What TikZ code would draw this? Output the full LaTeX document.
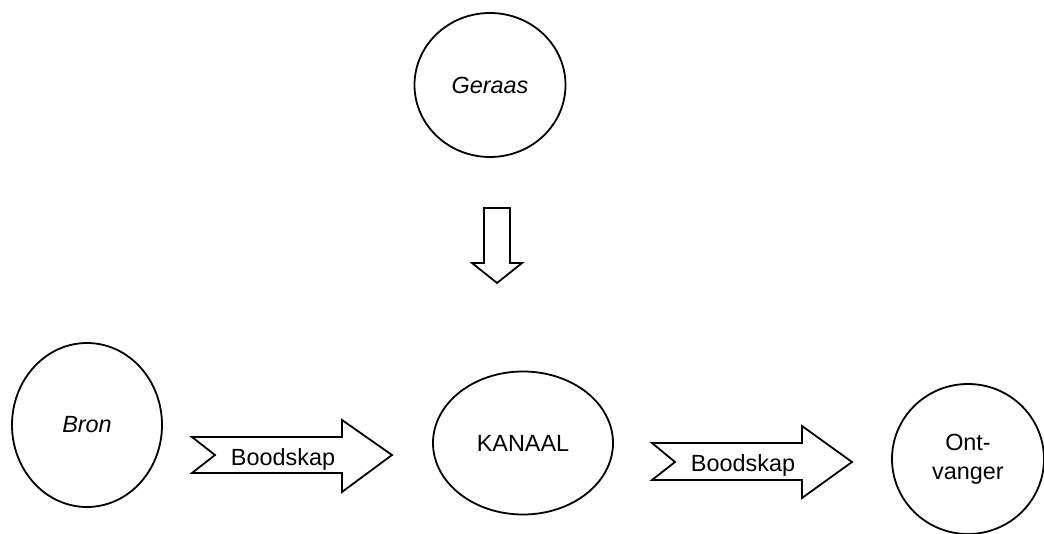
\documentclass[tikz,border=0pt]{standalone}
\usepackage{fontspec}
\setmainfont{Liberation Sans}
\usetikzlibrary{shapes.geometric}

\tikzset{
    blob/.style={ellipse,draw,line width=0.9pt,inner sep=0pt,align=center,
                 font=\fontsize{11.7}{14.5}\selectfont},
    blockarrow/.style={draw,line width=0.9pt,line join=miter},
    arrowtext/.style={inner sep=0pt,font=\fontsize{11.7}{14.5}\selectfont}
}

\begin{document}
\begin{tikzpicture}[x=0.5pt,y=-0.5pt]
    \useasboundingbox (0,0) rectangle (1044,534);

    \node (geraas) [blob,minimum width=75.5pt,minimum height=72pt] at (490,85) {\itshape Geraas};
    \node (bron)   [blob,minimum width=75pt,minimum height=82pt]   at (87,425) {\itshape Bron};
    \node (kanaal) [blob,minimum width=90pt,minimum height=71.5pt] at (523,443) {KANAAL};
    \node (ontv)   [blob,minimum width=76pt,minimum height=75pt]   at (968,459) {Ont-\\vanger};

    % noise arrow
    \draw[blockarrow] (484,208) -- (510,208) -- (510,263) -- (522,263) -- (497,283)
        -- (472,263) -- (484,263) -- cycle;

    % message arrows
    \draw[blockarrow] (192,437) -- (342,437) -- (342,420) -- (392,455) -- (342,492)
        -- (342,473) -- (192,473) -- (215,455) -- cycle;
    \node (msgA) [arrowtext] at (283,459) {Boodskap};

    \draw[blockarrow] (652,443) -- (802,443) -- (802,426) -- (852,462) -- (802,498)
        -- (802,480) -- (652,480) -- (675,462) -- cycle;
    \node (msgB) [arrowtext] at (743,465) {Boodskap};
\end{tikzpicture}
\end{document}
